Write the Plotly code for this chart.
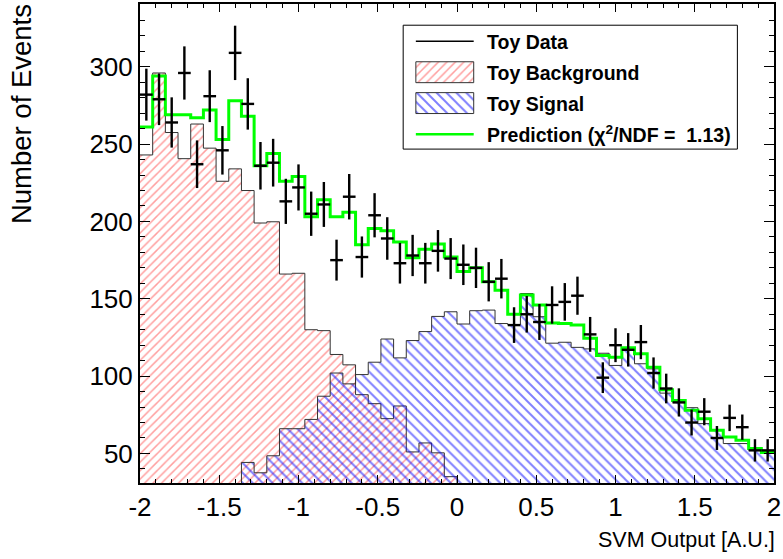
import numpy as np
import plotly.graph_objects as go

# ---------------- data ----------------
x_min, x_max, n_bins = -2.0, 2.0, 50
edges = np.linspace(x_min, x_max, n_bins + 1)
centers = 0.5 * (edges[:-1] + edges[1:])

data_counts = [282, 279, 264, 296, 237, 281, 246, 309, 276, 236,
               238, 213, 222, 205, 211, 175, 216, 177, 204, 189,
               173, 178, 173, 181, 176, 172, 170, 161, 163, 133,
               140, 135, 146, 148, 152, 127, 99, 120, 117, 122,
               102, 92, 83, 70, 77, 60, 73, 67, 52, 52]

background = [243, 296, 257.5, 240.6, 263, 247.4, 226, 234, 220, 199,
              199.8, 166, 166.5, 130, 129.4, 114, 107.3, 88, 82.2, 72.5,
              80.7, 51, 56.8, 50.4, 35, 20, 0, 0, 0, 0,
              0, 0, 0, 0, 0, 0, 0, 0, 0, 0,
              0, 0, 0, 0, 0, 0, 0, 0, 0, 0]

signal = [0, 0, 0, 0, 0, 0, 0, 0, 44.2, 37.5,
          48.5, 66, 66, 72, 87, 102, 95, 101, 109, 124,
          111.8, 123, 128.8, 138.6, 141.6, 133.7, 142.3, 142.7, 134, 133.3,
          153.4, 138.4, 121.3, 121.9, 118.6, 117.6, 114.8, 106.9, 117, 108,
          104.7, 89, 83.2, 79.6, 69.3, 65, 56.4, 56.4, 52.1, 50.4]

prediction = [261, 294, 269, 269, 267, 272, 253, 278, 268, 236,
              244, 226, 229, 203, 214, 203, 206, 185, 195.5, 194,
              186.7, 176.6, 182, 185.5, 177, 167.6, 170, 161, 155.6, 140,
              152.4, 146, 134.4, 134, 133, 124.5, 113.3, 112.2, 118.3, 114.4,
              105.8, 91.2, 84.3, 77.9, 72.5, 65, 60.7, 58.6, 53.2, 50.6]

x_ticks = [-2, -1.5, -1, -0.5, 0, 0.5, 1, 1.5, 2]
x_tick_labels = ["-2", "-1.5", "-1", "-0.5", "0", "0.5", "1", "1.5", "2"]
y_ticks = [50, 100, 150, 200, 250, 300]
y_range = [30.9, 340.6]

legend_labels = ["Toy Data", "Toy Background", "Toy Signal",
                 "Prediction (\u03c7<sup>2</sup>/NDF =  1.13)"]

RED = "#ff4040"
BLUE = "#0000ff"
GREEN = "#00ff00"
OUTLINE = "#333333"
FONT = "Liberation Sans, Arial, sans-serif"


def step(vals):
    v = list(vals)
    return list(edges), v + [v[-1]]


fig = go.Figure()

# background (red hatched)
sx, sy = step(background)
fig.add_trace(go.Scatter(
    x=sx, y=sy, mode="lines", line=dict(shape="hv", color=OUTLINE, width=1),
    fill="tozeroy", fillcolor="rgba(0,0,0,0)",
    fillpattern=dict(shape="/", fgcolor=RED, bgcolor="rgba(0,0,0,0)",
                     size=6, solidity=0.25),
    showlegend=False, hoverinfo="skip"))

# signal (blue hatched)
sx, sy = step(signal)
fig.add_trace(go.Scatter(
    x=sx, y=sy, mode="lines", line=dict(shape="hv", color=OUTLINE, width=1),
    fill="tozeroy", fillcolor="rgba(0,0,0,0)",
    fillpattern=dict(shape="\\", fgcolor=BLUE, bgcolor="rgba(0,0,0,0)",
                     size=7, solidity=0.28),
    showlegend=False, hoverinfo="skip"))

# prediction (green step)
sx, sy = step(prediction)
fig.add_trace(go.Scatter(
    x=sx, y=sy, mode="lines", line=dict(shape="hv", color=GREEN, width=3),
    showlegend=False, hoverinfo="skip"))

# data points with errors
errs = np.sqrt(np.array(data_counts, dtype=float))
fig.add_trace(go.Scatter(
    x=centers, y=data_counts, mode="markers",
    marker=dict(size=2, color="black"),
    error_y=dict(type="data", array=errs, visible=True, thickness=2.4,
                 width=0, color="black"),
    error_x=dict(type="constant", value=(edges[1] - edges[0]) / 2,
                 visible=True, thickness=2.4, width=0, color="black"),
    showlegend=False, hoverinfo="skip"))

# ---------------- manual legend (overlay axes in [0,1]) ----------------
# plot area in px: x 139.5..775, y 2..483
def px2x(p):
    return (p - 139.5) / (775 - 139.5)


def px2y(p):
    return (483 - p) / 481.0


def box(x0, x1, y0, y1):
    return [x0, x1, x1, x0, x0], [y0, y0, y1, y1, y0]


bx, by = box(px2x(416), px2x(474), px2y(60), px2y(81))
fig.add_trace(go.Scatter(
    x=bx, y=by, xaxis="x2", yaxis="y2", mode="lines",
    line=dict(color=OUTLINE, width=1), fill="toself", fillcolor="rgba(0,0,0,0)",
    fillpattern=dict(shape="/", fgcolor=RED, bgcolor="rgba(0,0,0,0)",
                     size=6, solidity=0.25),
    showlegend=False, hoverinfo="skip"))
bx, by = box(px2x(416), px2x(474), px2y(91), px2y(112))
fig.add_trace(go.Scatter(
    x=bx, y=by, xaxis="x2", yaxis="y2", mode="lines",
    line=dict(color=OUTLINE, width=1), fill="toself", fillcolor="rgba(0,0,0,0)",
    fillpattern=dict(shape="\\", fgcolor=BLUE, bgcolor="rgba(0,0,0,0)",
                     size=7, solidity=0.28),
    showlegend=False, hoverinfo="skip"))

shapes = [
    dict(type="rect", xref="paper", yref="paper",
         x0=px2x(403.3), x1=px2x(738.3), y0=px2y(147.7), y1=px2y(23.3),
         line=dict(color="black", width=1), fillcolor="white", layer="below"),
    dict(type="line", xref="paper", yref="paper",
         x0=px2x(416), x1=px2x(474), y0=px2y(39.5), y1=px2y(39.5),
         line=dict(color="black", width=1.5)),
    dict(type="line", xref="paper", yref="paper",
         x0=px2x(416), x1=px2x(474), y0=px2y(132.7), y1=px2y(132.7),
         line=dict(color=GREEN, width=2.5)),
]

annotations = []
for lab, ypx in zip(legend_labels, [40, 71, 102, 133]):
    annotations.append(dict(
        xref="paper", yref="paper", x=px2x(485), y=px2y(ypx),
        xanchor="left", yanchor="middle", showarrow=False,
        text="<b>" + lab + "</b>", font=dict(family=FONT, size=19.5, color="black")))

annotations.append(dict(
    xref="paper", yref="paper", x=px2x(778), y=px2y(540), xanchor="right",
    yanchor="middle", showarrow=False, text="SVM Output [A.U.]",
    font=dict(family=FONT, size=21.5, color="black")))
annotations.append(dict(
    xref="paper", yref="paper", x=px2x(21), y=1.0035, xanchor="center",
    yanchor="top", showarrow=False, text="Number of Events", textangle=-90,
    font=dict(family=FONT, size=27.5, color="black")))

fig.update_layout(
    width=783, height=559,
    margin=dict(l=139.5, r=8, t=2, b=76),
    paper_bgcolor="white", plot_bgcolor="white",
    showlegend=False,
    shapes=shapes, annotations=annotations,
    xaxis=dict(range=[x_min, x_max], tickvals=x_ticks, ticktext=x_tick_labels,
               ticks="inside", ticklen=8, tickwidth=1, tickcolor="black",
               minor=dict(dtick=0.1, tick0=0, ticks="inside", ticklen=4,
                          tickcolor="black"),
               showline=True, linecolor="black", linewidth=2, mirror="allticks",
               showgrid=False, zeroline=False,
               tickfont=dict(family=FONT, size=26, color="black")),
    yaxis=dict(range=y_range, tickvals=y_ticks,
               ticks="inside", ticklen=10, tickwidth=1, tickcolor="black",
               minor=dict(dtick=10, tick0=0, ticks="inside", ticklen=5,
                          tickcolor="black"),
               showline=True, linecolor="black", linewidth=2, mirror="allticks",
               showgrid=False, zeroline=False,
               tickfont=dict(family=FONT, size=26, color="black")),
    xaxis2=dict(range=[0, 1], domain=[0, 1], visible=False, overlaying="x",
                fixedrange=True),
    yaxis2=dict(range=[0, 1], domain=[0, 1], visible=False, overlaying="y",
                fixedrange=True),
)

fig.write_html("out.html")
